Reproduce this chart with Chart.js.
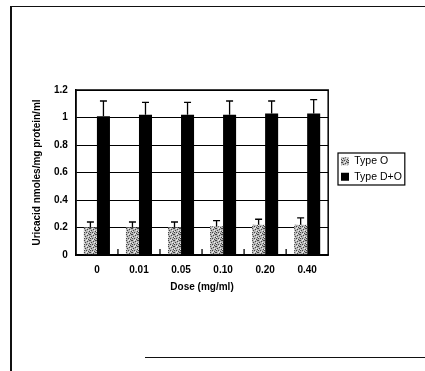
<!DOCTYPE html>
<html><head><meta charset="utf-8">
<script src="https://cdn.jsdelivr.net/npm/chart.js@4"></script>
<style>
html,body{margin:0;padding:0;background:#fff;}
#wrap{position:relative;width:425px;height:371px;overflow:hidden;background:#fff;}
.ln{position:absolute;background:#111;}
</style></head><body>
<div id="wrap">
<canvas id="c" width="425" height="371"></canvas>
<div class="ln" style="left:10px;top:6px;width:2px;height:365px"></div>
<div class="ln" style="left:10px;top:6px;width:415px;height:1px"></div>
<div class="ln" style="left:145px;top:357px;width:280px;height:1px"></div>
</div>
<script>
const categories = ['0', '0.01', '0.05', '0.10', '0.20', '0.40'];
const typeO = [0.20, 0.20, 0.20, 0.21, 0.22, 0.22];
const typeOErr = [0.04, 0.04, 0.04, 0.04, 0.04, 0.05];
const typeDO = [1.01, 1.02, 1.02, 1.02, 1.03, 1.03];
const typeDOErr = [0.11, 0.09, 0.09, 0.10, 0.09, 0.10];
const yTicks = [0, 0.2, 0.4, 0.6, 0.8, 1, 1.2];
const seriesNames = ['Type O', 'Type D+O'];
const xTitle = 'Dose (mg/ml)';
const yTitle = 'Uricacid nmoles/mg protein/ml';

function makePattern() {
  const p = document.createElement('canvas');
  p.width = 6; p.height = 6;
  const g = p.getContext('2d');
  g.fillStyle = '#b8b8b8'; g.fillRect(0, 0, 6, 6);
  g.fillStyle = '#444';
  [[0,0],[3,1],[1,2],[5,3],[2,4],[4,5],[5,0],[0,4]].forEach(([x,y]) => g.fillRect(x, y, 1, 1));
  g.fillStyle = '#eee';
  [[2,0],[4,2],[0,3],[3,5]].forEach(([x,y]) => g.fillRect(x, y, 1, 1));
  return document.getElementById('c').getContext('2d').createPattern(p, 'repeat');
}
const grayPattern = makePattern();
const errs = [typeOErr, typeDOErr];
const LEGEND_LEFT = 341, LEGEND_TOP = 156;

const extras = {
  id: 'extras',
  afterUpdate(chart) {
    const lg = chart.legend;
    if (!lg || !lg.legendHitBoxes || !lg.legendHitBoxes.length) return;
    const hb = lg.legendHitBoxes;
    const dx = LEGEND_LEFT - hb[0].left, dy = LEGEND_TOP - hb[0].top;
    lg.left += dx; lg.right += dx; lg.top += dy; lg.bottom += dy;
    hb.forEach(h => { h.left += dx; h.top += dy; });
  },
  afterDatasetsDraw(chart) {
    const ctx = chart.ctx, ys = chart.scales.y, xs = chart.scales.x, a = chart.chartArea;
    ctx.save();
    ctx.strokeStyle = '#000';
    ctx.lineWidth = 1.3;
    chart.data.datasets.forEach((ds, di) => {
      const meta = chart.getDatasetMeta(di);
      meta.data.forEach((el, i) => {
        const top = ys.getPixelForValue(ds.data[i] + errs[di][i]);
        ctx.beginPath();
        ctx.moveTo(el.x, el.y);
        ctx.lineTo(el.x, top);
        ctx.moveTo(el.x - 3.5, top);
        ctx.lineTo(el.x + 3.5, top);
        ctx.stroke();
      });
    });
    for (let i = 1; i < categories.length; i++) {
      const x = (xs.getPixelForValue(i - 1) + xs.getPixelForValue(i)) / 2;
      ctx.beginPath();
      ctx.moveTo(x, a.bottom);
      ctx.lineTo(x, a.bottom - 6);
      ctx.stroke();
    }
    ctx.lineWidth = 1.5;
    ctx.strokeRect(a.left, a.top, a.right - a.left, a.bottom - a.top);
    ctx.restore();
  },
  afterDraw(chart) {
    const lg = chart.legend;
    if (!lg || !lg.legendHitBoxes || !lg.legendHitBoxes.length) return;
    const hb = lg.legendHitBoxes;
    let l = Infinity, t = Infinity, r = -Infinity, b = -Infinity;
    hb.forEach(h => { l = Math.min(l, h.left); t = Math.min(t, h.top); r = Math.max(r, h.left + h.width); b = Math.max(b, h.top + h.height); });
    const ctx = chart.ctx;
    ctx.save();
    ctx.strokeStyle = '#000';
    ctx.lineWidth = 1.2;
    ctx.strokeRect(l - 3, t - 3, r - l + 6, b - t + 6);
    ctx.restore();
  }
};

new Chart(document.getElementById('c'), {
  type: 'bar',
  data: {
    labels: categories,
    datasets: [
      { label: seriesNames[0], data: typeO, backgroundColor: grayPattern, borderColor: '#000', borderWidth: 0 },
      { label: seriesNames[1], data: typeDO, backgroundColor: '#000', borderColor: '#000', borderWidth: 0 }
    ]
  },
  options: {
    responsive: false,
    animation: false,
    devicePixelRatio: 1,
    layout: { padding: { left: 31, top: 90, right: 21, bottom: 78 } },
    datasets: { bar: { categoryPercentage: 0.62, barPercentage: 1 } },
    plugins: {
      tooltip: { enabled: false },
      legend: {
        position: 'right',
        align: 'center',
        labels: {
          color: '#000',
          font: { family: 'Liberation Sans, Arial', size: 10.5 },
          boxWidth: 8, boxHeight: 8, padding: 5
        }
      }
    },
    scales: {
      x: {
        grid: { display: false },
        border: { display: true, color: '#000', width: 1.5 },
        ticks: { color: '#000', padding: 1, font: { family: 'Liberation Sans, Arial', size: 10, weight: 'bold' }, maxRotation: 0 },
        title: { display: true, text: xTitle, color: '#000', padding: { top: 4, bottom: 0 }, font: { family: 'Liberation Sans, Arial', size: 10, weight: 'bold' } }
      },
      y: {
        min: 0, max: 1.2,
        afterBuildTicks: ax => { ax.ticks = yTicks.map(v => ({ value: v })); },
        grid: { color: '#000', lineWidth: 1, drawTicks: false },
        border: { display: true, color: '#000', width: 1.5 },
        ticks: { color: '#000', padding: 8, callback: v => String(+v.toFixed(1)), font: { family: 'Liberation Sans, Arial', size: 10, weight: 'bold' } },
        title: { display: true, text: yTitle, color: '#000', padding: { top: 0, bottom: 3 }, font: { family: 'Liberation Sans, Arial', size: 10, weight: 'bold' } }
      }
    }
  },
  plugins: [extras]
});
</script>
</body></html>
